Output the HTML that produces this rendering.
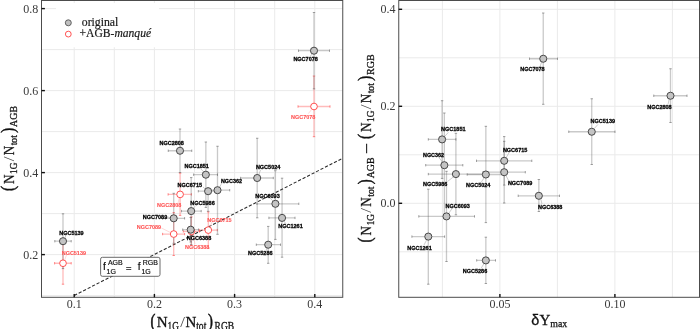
<!DOCTYPE html>
<html><head><meta charset="utf-8"><title>figure</title>
<style>html,body{margin:0;padding:0;background:#fff}body{width:700px;height:329px;overflow:hidden;font-family:"Liberation Sans",sans-serif}svg{display:block;will-change:transform}</style></head>
<body>
<svg width="700" height="329" viewBox="0 0 700 329">
<rect x="0" y="0" width="700" height="329" fill="#fff"/>
<line x1="74.2" y1="0.5" x2="74.2" y2="297.3" stroke="#eaeaea" stroke-width="1"/>
<line x1="114.30" y1="0.5" x2="114.30" y2="297.3" stroke="#eaeaea" stroke-width="1"/>
<line x1="154.4" y1="0.5" x2="154.4" y2="297.3" stroke="#eaeaea" stroke-width="1"/>
<line x1="194.5" y1="0.5" x2="194.5" y2="297.3" stroke="#eaeaea" stroke-width="1"/>
<line x1="234.60" y1="0.5" x2="234.60" y2="297.3" stroke="#eaeaea" stroke-width="1"/>
<line x1="274.7" y1="0.5" x2="274.7" y2="297.3" stroke="#eaeaea" stroke-width="1"/>
<line x1="314.8" y1="0.5" x2="314.8" y2="297.3" stroke="#eaeaea" stroke-width="1"/>
<line x1="41.5" y1="8.6" x2="342.75" y2="8.6" stroke="#eaeaea" stroke-width="1"/>
<line x1="41.5" y1="49.6" x2="342.75" y2="49.6" stroke="#eaeaea" stroke-width="1"/>
<line x1="41.5" y1="90.6" x2="342.75" y2="90.6" stroke="#eaeaea" stroke-width="1"/>
<line x1="41.5" y1="131.6" x2="342.75" y2="131.6" stroke="#eaeaea" stroke-width="1"/>
<line x1="41.5" y1="172.6" x2="342.75" y2="172.6" stroke="#eaeaea" stroke-width="1"/>
<line x1="41.5" y1="213.6" x2="342.75" y2="213.6" stroke="#eaeaea" stroke-width="1"/>
<line x1="41.5" y1="254.6" x2="342.75" y2="254.6" stroke="#eaeaea" stroke-width="1"/>
<line x1="41.5" y1="295.6" x2="342.75" y2="295.6" stroke="#eaeaea" stroke-width="1"/>
<line x1="442.4" y1="0.5" x2="442.4" y2="297.3" stroke="#eaeaea" stroke-width="1"/>
<line x1="499.9" y1="0.5" x2="499.9" y2="297.3" stroke="#eaeaea" stroke-width="1"/>
<line x1="557.4" y1="0.5" x2="557.4" y2="297.3" stroke="#eaeaea" stroke-width="1"/>
<line x1="614.9" y1="0.5" x2="614.9" y2="297.3" stroke="#eaeaea" stroke-width="1"/>
<line x1="672.4" y1="0.5" x2="672.4" y2="297.3" stroke="#eaeaea" stroke-width="1"/>
<line x1="398.75" y1="9.3" x2="699.5" y2="9.3" stroke="#eaeaea" stroke-width="1"/>
<line x1="398.75" y1="57.8" x2="699.5" y2="57.8" stroke="#eaeaea" stroke-width="1"/>
<line x1="398.75" y1="106.3" x2="699.5" y2="106.3" stroke="#eaeaea" stroke-width="1"/>
<line x1="398.75" y1="154.8" x2="699.5" y2="154.8" stroke="#eaeaea" stroke-width="1"/>
<line x1="398.75" y1="203.3" x2="699.5" y2="203.3" stroke="#eaeaea" stroke-width="1"/>
<line x1="398.75" y1="251.8" x2="699.5" y2="251.8" stroke="#eaeaea" stroke-width="1"/>
<line x1="74.20" y1="295.50" x2="341.27" y2="158.97" stroke="#2a2a2a" stroke-width="1.05" stroke-dasharray="3.2 1.83"/>
<g>
<path d="M298.0 106.5H330.0M314.0 76.0V136.7" stroke="#ff3030" stroke-opacity="0.33" stroke-width="1.3" fill="none"/><path d="M298.0 105.30V107.70M330.0 105.30V107.70M312.80 76.0H315.20M312.80 136.7H315.20" stroke="#ff3030" stroke-opacity="0.6" stroke-width="0.9" fill="none"/>
<path d="M168.1 194.4H191.4M180.1 173.2V215.4" stroke="#ff3030" stroke-opacity="0.33" stroke-width="1.3" fill="none"/><path d="M168.1 193.20V195.60M191.4 193.20V195.60M178.90 173.2H181.30M178.90 215.4H181.30" stroke="#ff3030" stroke-opacity="0.6" stroke-width="0.9" fill="none"/>
<path d="M162.6 234.05H184.6M173.7 212.6V255.5" stroke="#ff3030" stroke-opacity="0.33" stroke-width="1.3" fill="none"/><path d="M162.6 232.85V235.25M184.6 232.85V235.25M172.50 212.6H174.90M172.50 255.5H174.90" stroke="#ff3030" stroke-opacity="0.6" stroke-width="0.9" fill="none"/>
<path d="M183.3 231.4H199.5M191.4 216.9V245.7" stroke="#ff3030" stroke-opacity="0.33" stroke-width="1.3" fill="none"/><path d="M183.3 230.20V232.60M199.5 230.20V232.60M190.20 216.9H192.60M190.20 245.7H192.60" stroke="#ff3030" stroke-opacity="0.6" stroke-width="0.9" fill="none"/>
<path d="M199.3 230.1H217.3M208.3 211.9V248.3" stroke="#ff3030" stroke-opacity="0.33" stroke-width="1.3" fill="none"/><path d="M199.3 228.90V231.30M217.3 228.90V231.30M207.10 211.9H209.50M207.10 248.3H209.50" stroke="#ff3030" stroke-opacity="0.6" stroke-width="0.9" fill="none"/>
<path d="M54.6 263.25H71.2M63.0 242.3V284.2" stroke="#ff3030" stroke-opacity="0.33" stroke-width="1.3" fill="none"/><path d="M54.6 262.05V264.45M71.2 262.05V264.45M61.80 242.3H64.20M61.80 284.2H64.20" stroke="#ff3030" stroke-opacity="0.6" stroke-width="0.9" fill="none"/>
<path d="M298.5 50.7H329.5M314.0 12.5V88.9" stroke="#5a5a5a" stroke-opacity="0.33" stroke-width="1.3" fill="none"/><path d="M298.5 49.50V51.90M329.5 49.50V51.90M312.80 12.5H315.20M312.80 88.9H315.20" stroke="#555" stroke-opacity="0.6" stroke-width="0.9" fill="none"/>
<path d="M168.25 150.75H191.75M180.0 129.0V172.5" stroke="#5a5a5a" stroke-opacity="0.33" stroke-width="1.3" fill="none"/><path d="M168.25 149.55V151.95M191.75 149.55V151.95M178.80 129.0H181.20M178.80 172.5H181.20" stroke="#555" stroke-opacity="0.6" stroke-width="0.9" fill="none"/>
<path d="M193.6 174.7H217.5M205.85 142.0V207.4" stroke="#5a5a5a" stroke-opacity="0.33" stroke-width="1.3" fill="none"/><path d="M193.6 173.50V175.90M217.5 173.50V175.90M204.65 142.0H207.05M204.65 207.4H207.05" stroke="#555" stroke-opacity="0.6" stroke-width="0.9" fill="none"/>
<path d="M240.6 178.0H273.3M257.2 138.25V217.8" stroke="#5a5a5a" stroke-opacity="0.33" stroke-width="1.3" fill="none"/><path d="M240.6 176.80V179.20M273.3 176.80V179.20M256.00 138.25H258.40M256.00 217.8H258.40" stroke="#555" stroke-opacity="0.6" stroke-width="0.9" fill="none"/>
<path d="M205.3 190.2H229.7M217.5 146.25V234.3" stroke="#5a5a5a" stroke-opacity="0.33" stroke-width="1.3" fill="none"/><path d="M205.3 189.00V191.40M229.7 189.00V191.40M216.30 146.25H218.70M216.30 234.3H218.70" stroke="#555" stroke-opacity="0.6" stroke-width="0.9" fill="none"/>
<path d="M198.3 191.2H217.9M208.1 188.0V211.3" stroke="#5a5a5a" stroke-opacity="0.33" stroke-width="1.3" fill="none"/><path d="M198.3 190.00V192.40M217.9 190.00V192.40M206.90 188.0H209.30M206.90 211.3H209.30" stroke="#555" stroke-opacity="0.6" stroke-width="0.9" fill="none"/>
<path d="M181.5 211.1H201.2M191.2 177.6V244.6" stroke="#5a5a5a" stroke-opacity="0.33" stroke-width="1.3" fill="none"/><path d="M181.5 209.90V212.30M201.2 209.90V212.30M190.00 177.6H192.40M190.00 244.6H192.40" stroke="#555" stroke-opacity="0.6" stroke-width="0.9" fill="none"/>
<path d="M256.9 203.8H298.8M275.4 170.7V239.4" stroke="#5a5a5a" stroke-opacity="0.33" stroke-width="1.3" fill="none"/><path d="M256.9 202.60V205.00M298.8 202.60V205.00M274.20 170.7H276.60M274.20 239.4H276.60" stroke="#555" stroke-opacity="0.6" stroke-width="0.9" fill="none"/>
<path d="M268.9 217.9H295.0M282.05 178.2V257.2" stroke="#5a5a5a" stroke-opacity="0.33" stroke-width="1.3" fill="none"/><path d="M268.9 216.70V219.10M295.0 216.70V219.10M280.85 178.2H283.25M280.85 257.2H283.25" stroke="#555" stroke-opacity="0.6" stroke-width="0.9" fill="none"/>
<path d="M162.8 218.3H184.6M173.7 193.3V243.3" stroke="#5a5a5a" stroke-opacity="0.33" stroke-width="1.3" fill="none"/><path d="M162.8 217.10V219.50M184.6 217.10V219.50M172.50 193.3H174.90M172.50 243.3H174.90" stroke="#555" stroke-opacity="0.6" stroke-width="0.9" fill="none"/>
<path d="M182.7 229.7H198.5M190.7 217.5V242.0" stroke="#5a5a5a" stroke-opacity="0.33" stroke-width="1.3" fill="none"/><path d="M182.7 228.50V230.90M198.5 228.50V230.90M189.50 217.5H191.90M189.50 242.0H191.90" stroke="#555" stroke-opacity="0.6" stroke-width="0.9" fill="none"/>
<path d="M256.3 244.7H280.5M268.2 226.4V263.3" stroke="#5a5a5a" stroke-opacity="0.33" stroke-width="1.3" fill="none"/><path d="M256.3 243.50V245.90M280.5 243.50V245.90M267.00 226.4H269.40M267.00 263.3H269.40" stroke="#555" stroke-opacity="0.6" stroke-width="0.9" fill="none"/>
<path d="M54.8 241.2H71.2M63.0 213.8V268.6" stroke="#5a5a5a" stroke-opacity="0.33" stroke-width="1.3" fill="none"/><path d="M54.8 240.00V242.40M71.2 240.00V242.40M61.80 213.8H64.20M61.80 268.6H64.20" stroke="#555" stroke-opacity="0.6" stroke-width="0.9" fill="none"/>
<path d="M529.5 58.75H557.5M543.25 13.0V104.3" stroke="#5a5a5a" stroke-opacity="0.33" stroke-width="1.3" fill="none"/><path d="M529.5 57.55V59.95M557.5 57.55V59.95M542.05 13.0H544.45M542.05 104.3H544.45" stroke="#555" stroke-opacity="0.6" stroke-width="0.9" fill="none"/>
<path d="M653.75 95.75H687.0M670.5 68.75V122.5" stroke="#5a5a5a" stroke-opacity="0.33" stroke-width="1.3" fill="none"/><path d="M653.75 94.55V96.95M687.0 94.55V96.95M669.30 68.75H671.70M669.30 122.5H671.70" stroke="#555" stroke-opacity="0.6" stroke-width="0.9" fill="none"/>
<path d="M568.75 131.75H615.0M591.75 98.75V164.5" stroke="#5a5a5a" stroke-opacity="0.33" stroke-width="1.3" fill="none"/><path d="M568.75 130.55V132.95M615.0 130.55V132.95M590.55 98.75H592.95M590.55 164.5H592.95" stroke="#555" stroke-opacity="0.6" stroke-width="0.9" fill="none"/>
<path d="M428.3 139.4H455.9M442.1 100.7V178.4" stroke="#5a5a5a" stroke-opacity="0.33" stroke-width="1.3" fill="none"/><path d="M428.3 138.20V140.60M455.9 138.20V140.60M440.90 100.7H443.30M440.90 178.4H443.30" stroke="#555" stroke-opacity="0.6" stroke-width="0.9" fill="none"/>
<path d="M425.7 165.2H462.8M444.35 113.0V217.5" stroke="#5a5a5a" stroke-opacity="0.33" stroke-width="1.3" fill="none"/><path d="M425.7 164.00V166.40M462.8 164.00V166.40M443.15 113.0H445.55M443.15 217.5H445.55" stroke="#555" stroke-opacity="0.6" stroke-width="0.9" fill="none"/>
<path d="M476.5 160.8H531.8M504.2 136.6V185.1" stroke="#5a5a5a" stroke-opacity="0.33" stroke-width="1.3" fill="none"/><path d="M476.5 159.60V162.00M531.8 159.60V162.00M503.00 136.6H505.40M503.00 185.1H505.40" stroke="#555" stroke-opacity="0.6" stroke-width="0.9" fill="none"/>
<path d="M483.0 172.2H525.3M504.2 141.3V203.0" stroke="#5a5a5a" stroke-opacity="0.33" stroke-width="1.3" fill="none"/><path d="M483.0 171.00V173.40M525.3 171.00V173.40M503.00 141.3H505.40M503.00 203.0H505.40" stroke="#555" stroke-opacity="0.6" stroke-width="0.9" fill="none"/>
<path d="M428.3 174.1H483.5M455.9 133.3V214.8" stroke="#5a5a5a" stroke-opacity="0.33" stroke-width="1.3" fill="none"/><path d="M428.3 172.90V175.30M483.5 172.90V175.30M454.70 133.3H457.10M454.70 214.8H457.10" stroke="#555" stroke-opacity="0.6" stroke-width="0.9" fill="none"/>
<path d="M467.2 174.5H504.5M485.85 126.3V222.6" stroke="#5a5a5a" stroke-opacity="0.33" stroke-width="1.3" fill="none"/><path d="M467.2 173.30V175.70M504.5 173.30V175.70M484.65 126.3H487.05M484.65 222.6H487.05" stroke="#555" stroke-opacity="0.6" stroke-width="0.9" fill="none"/>
<path d="M518.2 195.8H559.5M538.85 179.5V211.5" stroke="#5a5a5a" stroke-opacity="0.33" stroke-width="1.3" fill="none"/><path d="M518.2 194.60V197.00M559.5 194.60V197.00M537.65 179.5H540.05M537.65 211.5H540.05" stroke="#555" stroke-opacity="0.6" stroke-width="0.9" fill="none"/>
<path d="M418.8 216.4H474.5M446.5 171.3V261.5" stroke="#5a5a5a" stroke-opacity="0.33" stroke-width="1.3" fill="none"/><path d="M418.8 215.20V217.60M474.5 215.20V217.60M445.30 171.3H447.70M445.30 261.5H447.70" stroke="#555" stroke-opacity="0.6" stroke-width="0.9" fill="none"/>
<path d="M411.9 236.6H444.6M428.3 189.2V284.2" stroke="#5a5a5a" stroke-opacity="0.33" stroke-width="1.3" fill="none"/><path d="M411.9 235.40V237.80M444.6 235.40V237.80M427.10 189.2H429.50M427.10 284.2H429.50" stroke="#555" stroke-opacity="0.6" stroke-width="0.9" fill="none"/>
<path d="M476.7 260.4H495.5M485.85 237.2V283.5" stroke="#5a5a5a" stroke-opacity="0.33" stroke-width="1.3" fill="none"/><path d="M476.7 259.20V261.60M495.5 259.20V261.60M484.65 237.2H487.05M484.65 283.5H487.05" stroke="#555" stroke-opacity="0.6" stroke-width="0.9" fill="none"/>
<line x1="310.0" y1="56.6" x2="312.0" y2="54.0" stroke="#999" stroke-width="0.5"/>
<line x1="200.3" y1="168.3" x2="203.6" y2="171.8" stroke="#999" stroke-width="0.5"/>
<line x1="203.0" y1="187.0" x2="205.6" y2="189.3" stroke="#999" stroke-width="0.5"/>
<line x1="221.2" y1="184.2" x2="219.6" y2="187.0" stroke="#999" stroke-width="0.5"/>
<line x1="260.5" y1="170.0" x2="258.8" y2="174.8" stroke="#999" stroke-width="0.5"/>
<line x1="270.0" y1="198.0" x2="273.0" y2="201.0" stroke="#999" stroke-width="0.5"/>
<line x1="286.0" y1="224.0" x2="284.0" y2="221.0" stroke="#999" stroke-width="0.5"/>
<line x1="195.5" y1="206.0" x2="193.2" y2="208.2" stroke="#999" stroke-width="0.5"/>
<line x1="168.0" y1="217.0" x2="170.2" y2="217.8" stroke="#999" stroke-width="0.5"/>
<line x1="192.5" y1="236.0" x2="191.5" y2="233.5" stroke="#999" stroke-width="0.5"/>
<line x1="266.0" y1="251.0" x2="266.8" y2="248.0" stroke="#999" stroke-width="0.5"/>
<line x1="66.0" y1="235.5" x2="64.8" y2="238.2" stroke="#999" stroke-width="0.5"/>
<line x1="181.0" y1="145.0" x2="180.5" y2="147.3" stroke="#999" stroke-width="0.5"/>
<line x1="161.4" y1="228.0" x2="170.6" y2="232.6" stroke="#ffb0b0" stroke-width="0.5"/>
<line x1="308.3" y1="113.6" x2="311.4" y2="109.8" stroke="#ffb0b0" stroke-width="0.5"/>
<line x1="178.0" y1="203.0" x2="179.3" y2="198.0" stroke="#ffb0b0" stroke-width="0.5"/>
<line x1="212.0" y1="222.0" x2="210.0" y2="227.0" stroke="#ffb0b0" stroke-width="0.5"/>
<line x1="66.5" y1="255.0" x2="64.8" y2="259.8" stroke="#ffb0b0" stroke-width="0.5"/>
<line x1="195.0" y1="244.0" x2="193.0" y2="234.5" stroke="#ffb0b0" stroke-width="0.5"/>
<line x1="540.0" y1="66.8" x2="541.6" y2="62.0" stroke="#999" stroke-width="0.5"/>
<line x1="668.0" y1="104.5" x2="669.2" y2="99.2" stroke="#999" stroke-width="0.5"/>
<line x1="598.0" y1="124.4" x2="594.4" y2="128.4" stroke="#999" stroke-width="0.5"/>
<line x1="448.4" y1="132.3" x2="444.9" y2="136.2" stroke="#999" stroke-width="0.5"/>
<line x1="438.5" y1="157.0" x2="442.4" y2="162.0" stroke="#999" stroke-width="0.5"/>
<line x1="509.0" y1="152.8" x2="506.2" y2="157.6" stroke="#999" stroke-width="0.5"/>
<line x1="508.5" y1="180.3" x2="506.0" y2="175.6" stroke="#999" stroke-width="0.5"/>
<line x1="447.5" y1="181.5" x2="453.8" y2="176.6" stroke="#999" stroke-width="0.5"/>
<line x1="481.0" y1="182.5" x2="484.0" y2="178.0" stroke="#999" stroke-width="0.5"/>
<line x1="542.0" y1="204.0" x2="540.8" y2="199.2" stroke="#999" stroke-width="0.5"/>
<line x1="452.5" y1="208.0" x2="448.8" y2="213.2" stroke="#999" stroke-width="0.5"/>
<line x1="424.0" y1="245.0" x2="426.6" y2="240.0" stroke="#999" stroke-width="0.5"/>
<line x1="481.0" y1="268.5" x2="483.8" y2="263.8" stroke="#999" stroke-width="0.5"/>
<circle cx="314.0" cy="106.5" r="3.35" fill="#fff" stroke="#ff4040" stroke-width="0.9"/>
<circle cx="180.1" cy="194.4" r="3.35" fill="#fff" stroke="#ff4040" stroke-width="0.9"/>
<circle cx="173.7" cy="234.05" r="3.35" fill="#fff" stroke="#ff4040" stroke-width="0.9"/>
<circle cx="191.4" cy="231.4" r="3.35" fill="#fff" stroke="#ff4040" stroke-width="0.9"/>
<circle cx="208.3" cy="230.1" r="3.35" fill="#fff" stroke="#ff4040" stroke-width="0.9"/>
<circle cx="63.0" cy="263.25" r="3.35" fill="#fff" stroke="#ff4040" stroke-width="0.9"/>
<circle cx="314.0" cy="50.7" r="3.55" fill="#c4c4c4" stroke="#404040" stroke-width="0.95"/>
<circle cx="180.0" cy="150.75" r="3.55" fill="#c4c4c4" stroke="#404040" stroke-width="0.95"/>
<circle cx="205.85" cy="174.7" r="3.55" fill="#c4c4c4" stroke="#404040" stroke-width="0.95"/>
<circle cx="257.2" cy="178.0" r="3.55" fill="#c4c4c4" stroke="#404040" stroke-width="0.95"/>
<circle cx="217.5" cy="190.2" r="3.55" fill="#c4c4c4" stroke="#404040" stroke-width="0.95"/>
<circle cx="208.1" cy="191.2" r="3.55" fill="#c4c4c4" stroke="#404040" stroke-width="0.95"/>
<circle cx="191.2" cy="211.1" r="3.55" fill="#c4c4c4" stroke="#404040" stroke-width="0.95"/>
<circle cx="275.4" cy="203.8" r="3.55" fill="#c4c4c4" stroke="#404040" stroke-width="0.95"/>
<circle cx="282.05" cy="217.9" r="3.55" fill="#c4c4c4" stroke="#404040" stroke-width="0.95"/>
<circle cx="173.7" cy="218.3" r="3.55" fill="#c4c4c4" stroke="#404040" stroke-width="0.95"/>
<circle cx="190.7" cy="229.7" r="3.55" fill="#c4c4c4" stroke="#404040" stroke-width="0.95"/>
<circle cx="268.2" cy="244.7" r="3.55" fill="#c4c4c4" stroke="#404040" stroke-width="0.95"/>
<circle cx="63.0" cy="241.2" r="3.55" fill="#c4c4c4" stroke="#404040" stroke-width="0.95"/>
<circle cx="543.25" cy="58.75" r="3.55" fill="#c4c4c4" stroke="#404040" stroke-width="0.95"/>
<circle cx="670.5" cy="95.75" r="3.55" fill="#c4c4c4" stroke="#404040" stroke-width="0.95"/>
<circle cx="591.75" cy="131.75" r="3.55" fill="#c4c4c4" stroke="#404040" stroke-width="0.95"/>
<circle cx="442.1" cy="139.4" r="3.55" fill="#c4c4c4" stroke="#404040" stroke-width="0.95"/>
<circle cx="444.35" cy="165.2" r="3.55" fill="#c4c4c4" stroke="#404040" stroke-width="0.95"/>
<circle cx="504.2" cy="160.8" r="3.55" fill="#c4c4c4" stroke="#404040" stroke-width="0.95"/>
<circle cx="504.2" cy="172.2" r="3.55" fill="#c4c4c4" stroke="#404040" stroke-width="0.95"/>
<circle cx="455.9" cy="174.1" r="3.55" fill="#c4c4c4" stroke="#404040" stroke-width="0.95"/>
<circle cx="485.85" cy="174.5" r="3.55" fill="#c4c4c4" stroke="#404040" stroke-width="0.95"/>
<circle cx="538.85" cy="195.8" r="3.55" fill="#c4c4c4" stroke="#404040" stroke-width="0.95"/>
<circle cx="446.5" cy="216.4" r="3.55" fill="#c4c4c4" stroke="#404040" stroke-width="0.95"/>
<circle cx="428.3" cy="236.6" r="3.55" fill="#c4c4c4" stroke="#404040" stroke-width="0.95"/>
<circle cx="485.85" cy="260.4" r="3.55" fill="#c4c4c4" stroke="#404040" stroke-width="0.95"/>
</g>
<g font-family="Liberation Sans, sans-serif">
<text x="293.4" y="61.15" font-size="5.6" font-weight="bold" fill="#000" stroke="#000" stroke-width="0.28" textLength="24.4" lengthAdjust="spacingAndGlyphs">NGC7078</text>
<text x="159.5" y="144.70" font-size="5.6" font-weight="bold" fill="#000" stroke="#000" stroke-width="0.28" textLength="24.4" lengthAdjust="spacingAndGlyphs">NGC2808</text>
<text x="184.5" y="167.65" font-size="5.6" font-weight="bold" fill="#000" stroke="#000" stroke-width="0.28" textLength="24.4" lengthAdjust="spacingAndGlyphs">NGC1851</text>
<text x="255.9" y="169.45" font-size="5.6" font-weight="bold" fill="#000" stroke="#000" stroke-width="0.28" textLength="24.4" lengthAdjust="spacingAndGlyphs">NGC5024</text>
<text x="220.9" y="183.45" font-size="5.6" font-weight="bold" fill="#000" stroke="#000" stroke-width="0.28" textLength="21.0" lengthAdjust="spacingAndGlyphs">NGC362</text>
<text x="177.6" y="187.15" font-size="5.6" font-weight="bold" fill="#000" stroke="#000" stroke-width="0.28" textLength="24.4" lengthAdjust="spacingAndGlyphs">NGC6715</text>
<text x="190.3" y="205.15" font-size="5.6" font-weight="bold" fill="#000" stroke="#000" stroke-width="0.28" textLength="24.4" lengthAdjust="spacingAndGlyphs">NGC5986</text>
<text x="255.3" y="197.75" font-size="5.6" font-weight="bold" fill="#000" stroke="#000" stroke-width="0.28" textLength="24.4" lengthAdjust="spacingAndGlyphs">NGC6093</text>
<text x="278.3" y="228.15" font-size="5.6" font-weight="bold" fill="#000" stroke="#000" stroke-width="0.28" textLength="24.4" lengthAdjust="spacingAndGlyphs">NGC1261</text>
<text x="142.8" y="218.55" font-size="5.6" font-weight="bold" fill="#000" stroke="#000" stroke-width="0.28" textLength="24.4" lengthAdjust="spacingAndGlyphs">NGC7089</text>
<text x="186.8" y="240.15" font-size="5.6" font-weight="bold" fill="#000" stroke="#000" stroke-width="0.28" textLength="24.4" lengthAdjust="spacingAndGlyphs">NGC6388</text>
<text x="248.1" y="255.25" font-size="5.6" font-weight="bold" fill="#000" stroke="#000" stroke-width="0.28" textLength="24.4" lengthAdjust="spacingAndGlyphs">NGC5286</text>
<text x="59.2" y="234.85" font-size="5.6" font-weight="bold" fill="#000" stroke="#000" stroke-width="0.28" textLength="24.4" lengthAdjust="spacingAndGlyphs">NGC5139</text>
<text x="520.2" y="71.20" font-size="5.6" font-weight="bold" fill="#000" stroke="#000" stroke-width="0.28" textLength="24.4" lengthAdjust="spacingAndGlyphs">NGC7078</text>
<text x="647.2" y="108.70" font-size="5.6" font-weight="bold" fill="#000" stroke="#000" stroke-width="0.28" textLength="24.4" lengthAdjust="spacingAndGlyphs">NGC2808</text>
<text x="590.6" y="123.20" font-size="5.6" font-weight="bold" fill="#000" stroke="#000" stroke-width="0.28" textLength="24.4" lengthAdjust="spacingAndGlyphs">NGC5139</text>
<text x="441.1" y="130.85" font-size="5.6" font-weight="bold" fill="#000" stroke="#000" stroke-width="0.28" textLength="24.4" lengthAdjust="spacingAndGlyphs">NGC1851</text>
<text x="423.0" y="156.55" font-size="5.6" font-weight="bold" fill="#000" stroke="#000" stroke-width="0.28" textLength="21.0" lengthAdjust="spacingAndGlyphs">NGC362</text>
<text x="502.9" y="152.05" font-size="5.6" font-weight="bold" fill="#000" stroke="#000" stroke-width="0.28" textLength="24.4" lengthAdjust="spacingAndGlyphs">NGC6715</text>
<text x="507.9" y="184.95" font-size="5.6" font-weight="bold" fill="#000" stroke="#000" stroke-width="0.28" textLength="24.4" lengthAdjust="spacingAndGlyphs">NGC7089</text>
<text x="423.0" y="185.75" font-size="5.6" font-weight="bold" fill="#000" stroke="#000" stroke-width="0.28" textLength="24.4" lengthAdjust="spacingAndGlyphs">NGC5986</text>
<text x="466.0" y="187.05" font-size="5.6" font-weight="bold" fill="#000" stroke="#000" stroke-width="0.28" textLength="24.4" lengthAdjust="spacingAndGlyphs">NGC5024</text>
<text x="538.0" y="208.70" font-size="5.6" font-weight="bold" fill="#000" stroke="#000" stroke-width="0.28" textLength="24.4" lengthAdjust="spacingAndGlyphs">NGC6388</text>
<text x="445.5" y="207.65" font-size="5.6" font-weight="bold" fill="#000" stroke="#000" stroke-width="0.28" textLength="24.4" lengthAdjust="spacingAndGlyphs">NGC6093</text>
<text x="407.3" y="249.55" font-size="5.6" font-weight="bold" fill="#000" stroke="#000" stroke-width="0.28" textLength="24.4" lengthAdjust="spacingAndGlyphs">NGC1261</text>
<text x="462.8" y="273.15" font-size="5.6" font-weight="bold" fill="#000" stroke="#000" stroke-width="0.28" textLength="24.4" lengthAdjust="spacingAndGlyphs">NGC5286</text>
<text x="291.0" y="119.35" font-size="5.6" font-weight="bold" fill="#ff5656" stroke="#ff5656" stroke-width="0.12" textLength="24.3" lengthAdjust="spacingAndGlyphs">NGC7078</text>
<text x="157.0" y="207.40" font-size="5.6" font-weight="bold" fill="#ff5656" stroke="#ff5656" stroke-width="0.12" textLength="24.3" lengthAdjust="spacingAndGlyphs">NGC2808</text>
<text x="136.75" y="228.80" font-size="5.6" font-weight="bold" fill="#ff5656" stroke="#ff5656" stroke-width="0.12" textLength="24.3" lengthAdjust="spacingAndGlyphs">NGC7089</text>
<text x="207.25" y="221.90" font-size="5.6" font-weight="bold" fill="#ff5656" stroke="#ff5656" stroke-width="0.12" textLength="24.3" lengthAdjust="spacingAndGlyphs">NGC6715</text>
<text x="185.0" y="248.50" font-size="5.6" font-weight="bold" fill="#ff5656" stroke="#ff5656" stroke-width="0.12" textLength="24.3" lengthAdjust="spacingAndGlyphs">NGC6388</text>
<text x="61.7" y="254.70" font-size="5.6" font-weight="bold" fill="#ff5656" stroke="#ff5656" stroke-width="0.12" textLength="24.3" lengthAdjust="spacingAndGlyphs">NGC5139</text>
</g>
<rect x="100.6" y="257.3" width="59.4" height="19.0" rx="1.8" ry="1.8" fill="#fff" stroke="#5a5a5a" stroke-width="0.9"/>
<g font-family="Liberation Sans, sans-serif" fill="#111" stroke="#111" stroke-width="0.18">
<text x="103.0" y="270.4" font-size="10.4">f</text>
<text x="107.9" y="265.0" font-size="7">AGB</text>
<text x="106.6" y="273.9" font-size="7">1G</text>
<text x="126.0" y="270.8" font-size="9.4" stroke-width="0.3">=</text>
<text x="137.8" y="270.4" font-size="10.4">f</text>
<text x="142.7" y="265.0" font-size="7">RGB</text>
<text x="141.4" y="273.9" font-size="7">1G</text>
</g>
<rect x="41.5" y="0.5" width="301.25" height="296.8" fill="none" stroke="#4c4c4c" stroke-width="1"/>
<rect x="398.75" y="0.5" width="300.75" height="296.8" fill="none" stroke="#4c4c4c" stroke-width="1"/>
<g font-family="Liberation Serif, serif">
<line x1="41.5" y1="8.6" x2="44.9" y2="8.6" stroke="#111" stroke-width="1.4"/>
<text x="38.2" y="12.50" text-anchor="end" font-size="12" fill="#3a3a3a">0.8</text>
<line x1="41.5" y1="90.6" x2="44.9" y2="90.6" stroke="#111" stroke-width="1.4"/>
<text x="38.2" y="94.50" text-anchor="end" font-size="12" fill="#3a3a3a">0.6</text>
<line x1="41.5" y1="172.6" x2="44.9" y2="172.6" stroke="#111" stroke-width="1.4"/>
<text x="38.2" y="176.50" text-anchor="end" font-size="12" fill="#3a3a3a">0.4</text>
<line x1="41.5" y1="254.6" x2="44.9" y2="254.6" stroke="#111" stroke-width="1.4"/>
<text x="38.2" y="258.50" text-anchor="end" font-size="12" fill="#3a3a3a">0.2</text>
<line x1="74.2" y1="297.3" x2="74.2" y2="293.90" stroke="#111" stroke-width="1.4"/>
<text x="74.2" y="307.7" text-anchor="middle" font-size="12" fill="#3a3a3a">0.1</text>
<line x1="154.4" y1="297.3" x2="154.4" y2="293.90" stroke="#111" stroke-width="1.4"/>
<text x="154.4" y="307.7" text-anchor="middle" font-size="12" fill="#3a3a3a">0.2</text>
<line x1="234.6" y1="297.3" x2="234.6" y2="293.90" stroke="#111" stroke-width="1.4"/>
<text x="234.6" y="307.7" text-anchor="middle" font-size="12" fill="#3a3a3a">0.3</text>
<line x1="314.8" y1="297.3" x2="314.8" y2="293.90" stroke="#111" stroke-width="1.4"/>
<text x="314.8" y="307.7" text-anchor="middle" font-size="12" fill="#3a3a3a">0.4</text>
<line x1="398.75" y1="9.3" x2="402.15" y2="9.3" stroke="#111" stroke-width="1.4"/>
<text x="395.45" y="13.20" text-anchor="end" font-size="12" fill="#3a3a3a">0.4</text>
<line x1="398.75" y1="106.3" x2="402.15" y2="106.3" stroke="#111" stroke-width="1.4"/>
<text x="395.45" y="110.20" text-anchor="end" font-size="12" fill="#3a3a3a">0.2</text>
<line x1="398.75" y1="203.3" x2="402.15" y2="203.3" stroke="#111" stroke-width="1.4"/>
<text x="395.45" y="207.20" text-anchor="end" font-size="12" fill="#3a3a3a">0.0</text>
<line x1="499.9" y1="297.3" x2="499.9" y2="293.90" stroke="#111" stroke-width="1.4"/>
<text x="499.9" y="307.7" text-anchor="middle" font-size="12" fill="#3a3a3a">0.05</text>
<line x1="614.9" y1="297.3" x2="614.9" y2="293.90" stroke="#111" stroke-width="1.4"/>
<text x="614.9" y="307.7" text-anchor="middle" font-size="12" fill="#3a3a3a">0.10</text>
<rect x="56" y="3" width="103" height="44.3" rx="2" ry="2" fill="#fff"/>
<circle cx="68.3" cy="22.8" r="3.0" fill="#c0c0c0" stroke="#555" stroke-width="0.9"/>
<circle cx="68.3" cy="34.1" r="2.9" fill="#fff" stroke="#ff4040" stroke-width="0.9"/>
<text x="81.8" y="26.3" font-size="11.75" fill="#1a1a1a" stroke="#1a1a1a" stroke-width="0.2">original</text>
<text x="79.5" y="37.0" font-size="11.6" fill="#1a1a1a" stroke="#1a1a1a" stroke-width="0.2">+AGB-<tspan font-style="italic">manqué</tspan></text>
<text x="150.50" y="327.10" font-size="18.6" fill="#111" stroke="#111" stroke-width="0.55" textLength="4.9" lengthAdjust="spacingAndGlyphs">(</text><text x="156.80" y="327.0" font-size="15.0" fill="#111" stroke="#111" stroke-width="0.3">N</text><text x="167.60" y="329.5" font-size="12.0" fill="#111" stroke="#111" stroke-width="0.3" textLength="11.3" lengthAdjust="spacingAndGlyphs">1G</text><text x="180.20" y="327.0" font-size="15.0" fill="#4a4a4a" textLength="4.7" lengthAdjust="spacingAndGlyphs">/</text><text x="185.50" y="327.0" font-size="15.0" fill="#111" stroke="#111" stroke-width="0.3">N</text><text x="196.20" y="329.5" font-size="12.0" fill="#111" stroke="#111" stroke-width="0.3" textLength="10.1" lengthAdjust="spacingAndGlyphs">tot</text><text x="207.90" y="327.10" font-size="18.6" fill="#111" stroke="#111" stroke-width="0.55" textLength="4.9" lengthAdjust="spacingAndGlyphs">)</text><text x="214.60" y="329.5" font-size="12.0" fill="#111" stroke="#111" stroke-width="0.3" textLength="19.6" lengthAdjust="spacingAndGlyphs">RGB</text>
<g transform="translate(-1.0,190.6) rotate(-90)"><text x="-0.40" y="14.90" font-size="18.6" fill="#111" stroke="#111" stroke-width="0.55" textLength="4.9" lengthAdjust="spacingAndGlyphs">(</text><text x="6.60" y="14.8" font-size="15.0" fill="#111" stroke="#111" stroke-width="0.3" textLength="9.5" lengthAdjust="spacingAndGlyphs">N</text><text x="16.70" y="17.8" font-size="11.2" fill="#111" stroke="#111" stroke-width="0.3" textLength="11.3" lengthAdjust="spacingAndGlyphs">1G</text><text x="29.30" y="14.8" font-size="15.0" fill="#4a4a4a" textLength="4.7" lengthAdjust="spacingAndGlyphs">/</text><text x="35.30" y="14.8" font-size="15.0" fill="#111" stroke="#111" stroke-width="0.3" textLength="9.5" lengthAdjust="spacingAndGlyphs">N</text><text x="45.30" y="17.8" font-size="11.2" fill="#111" stroke="#111" stroke-width="0.3" textLength="10.1" lengthAdjust="spacingAndGlyphs">tot</text><text x="57.80" y="14.90" font-size="18.6" fill="#111" stroke="#111" stroke-width="0.55" textLength="4.9" lengthAdjust="spacingAndGlyphs">)</text><text x="63.70" y="17.8" font-size="11.2" fill="#111" stroke="#111" stroke-width="0.3" textLength="20.9" lengthAdjust="spacingAndGlyphs">AGB</text></g>
<g transform="translate(355.8,242.0) rotate(-90)"><text x="-0.40" y="14.90" font-size="18.6" fill="#111" stroke="#111" stroke-width="0.55" textLength="4.9" lengthAdjust="spacingAndGlyphs">(</text><text x="6.60" y="14.8" font-size="15.0" fill="#111" stroke="#111" stroke-width="0.3" textLength="9.5" lengthAdjust="spacingAndGlyphs">N</text><text x="16.70" y="17.8" font-size="11.2" fill="#111" stroke="#111" stroke-width="0.3" textLength="11.3" lengthAdjust="spacingAndGlyphs">1G</text><text x="29.30" y="14.8" font-size="15.0" fill="#4a4a4a" textLength="4.7" lengthAdjust="spacingAndGlyphs">/</text><text x="35.30" y="14.8" font-size="15.0" fill="#111" stroke="#111" stroke-width="0.3" textLength="9.5" lengthAdjust="spacingAndGlyphs">N</text><text x="45.30" y="17.8" font-size="11.2" fill="#111" stroke="#111" stroke-width="0.3" textLength="10.1" lengthAdjust="spacingAndGlyphs">tot</text><text x="57.80" y="14.90" font-size="18.6" fill="#111" stroke="#111" stroke-width="0.55" textLength="4.9" lengthAdjust="spacingAndGlyphs">)</text><text x="63.70" y="17.8" font-size="11.2" fill="#111" stroke="#111" stroke-width="0.3" textLength="20.9" lengthAdjust="spacingAndGlyphs">AGB</text><text x="88.0" y="15.9" font-size="16" fill="#111" stroke="#111" stroke-width="0.3" textLength="11" lengthAdjust="spacingAndGlyphs">−</text><text x="103.00" y="14.90" font-size="18.6" fill="#111" stroke="#111" stroke-width="0.55" textLength="4.9" lengthAdjust="spacingAndGlyphs">(</text><text x="110.00" y="14.8" font-size="15.0" fill="#111" stroke="#111" stroke-width="0.3" textLength="9.5" lengthAdjust="spacingAndGlyphs">N</text><text x="120.10" y="17.8" font-size="11.2" fill="#111" stroke="#111" stroke-width="0.3" textLength="11.3" lengthAdjust="spacingAndGlyphs">1G</text><text x="132.70" y="14.8" font-size="15.0" fill="#4a4a4a" textLength="4.7" lengthAdjust="spacingAndGlyphs">/</text><text x="138.70" y="14.8" font-size="15.0" fill="#111" stroke="#111" stroke-width="0.3" textLength="9.5" lengthAdjust="spacingAndGlyphs">N</text><text x="148.70" y="17.8" font-size="11.2" fill="#111" stroke="#111" stroke-width="0.3" textLength="10.1" lengthAdjust="spacingAndGlyphs">tot</text><text x="161.20" y="14.90" font-size="18.6" fill="#111" stroke="#111" stroke-width="0.55" textLength="4.9" lengthAdjust="spacingAndGlyphs">)</text><text x="167.10" y="17.8" font-size="11.2" fill="#111" stroke="#111" stroke-width="0.3" textLength="20.5" lengthAdjust="spacingAndGlyphs">RGB</text></g>
<text x="531.2" y="324.7" font-family="Liberation Sans, sans-serif" font-size="14.4" fill="#111" stroke="#111" stroke-width="0.3">δ</text>
<text x="539.6" y="324.7" font-size="15" fill="#111" stroke="#111" stroke-width="0.3">Y</text>
<text x="550.3" y="327.0" font-size="10" fill="#111" stroke="#111" stroke-width="0.25" textLength="17" lengthAdjust="spacingAndGlyphs">max</text>
</g>
</svg>
</body></html>
